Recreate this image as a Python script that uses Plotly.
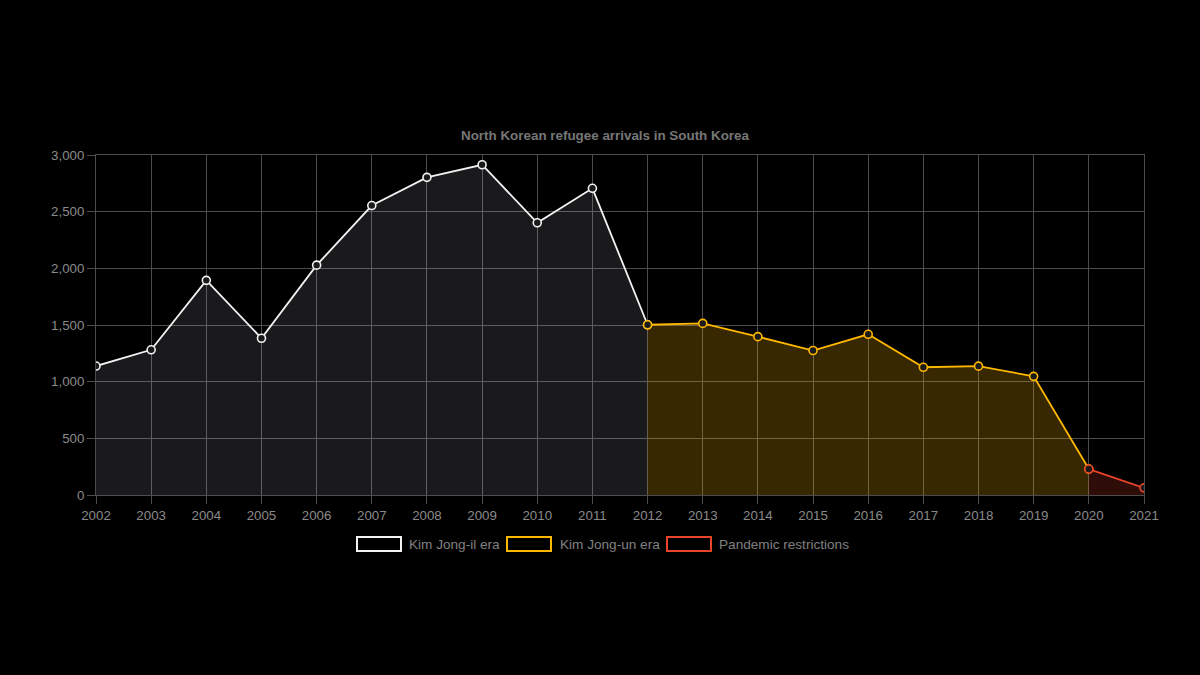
import plotly.graph_objects as go

years_il = [2002, 2003, 2004, 2005, 2006, 2007, 2008, 2009, 2010, 2011, 2012]
arrivals_il = [1138, 1281, 1894, 1383, 2028, 2554, 2803, 2914, 2402, 2706, 1502]

years_un = [2012, 2013, 2014, 2015, 2016, 2017, 2018, 2019, 2020]
arrivals_un = [1502, 1514, 1397, 1275, 1418, 1127, 1137, 1047, 229]

years_pandemic = [2020, 2021]
arrivals_pandemic = [229, 63]

series = [
    ("Kim Jong-il era", years_il, arrivals_il, "#f2f2f2", "rgba(235,232,255,0.11)"),
    ("Kim Jong-un era", years_un, arrivals_un, "#ffb800", "rgba(255,184,10,0.22)"),
    ("Pandemic restrictions", years_pandemic, arrivals_pandemic, "#e8442a", "rgba(232,60,35,0.2)"),
]

FONT = "Liberation Sans, Arial, Helvetica, sans-serif"
GRID = "#4d4d4d"
TEXT = "#8a8a8a"

fig = go.Figure()
for name, xs, ys, line_col, fill_col in series:
    fig.add_trace(go.Scatter(
        x=xs, y=ys, name=name, mode="lines+markers",
        fill="tozeroy", fillcolor=fill_col,
        line=dict(color=line_col, width=1.8),
        marker=dict(size=8, color="#1a1a1a", line=dict(color=line_col, width=1.6)),
        showlegend=False,
    ))

# legend drawn as Chart.js-style boxes
legend_items = [(357, 407), (507, 558), (667, 717)]
for (box_x, text_x), (name, _, _, line_col, _) in zip(legend_items, series):
    fig.add_shape(type="rect", xref="paper", yref="paper",
                  x0=(box_x - 96) / 1048, x1=(box_x + 44 - 96) / 1048,
                  y0=(495 - 551) / 340, y1=(495 - 537) / 340,
                  line=dict(color=line_col, width=2), fillcolor="#000000")
    fig.add_annotation(text=name, xref="paper", yref="paper",
                       x=(text_x - 96) / 1048, y=(495 - 544) / 340,
                       xanchor="left", yanchor="middle", showarrow=False,
                       font=dict(family=FONT, size=13.6, color="#808080"))

fig.update_layout(
    width=1200, height=675,
    paper_bgcolor="#000000", plot_bgcolor="#000000",
    margin=dict(l=96, r=56, t=155, b=180),
    title=dict(text="<b>North Korean refugee arrivals in South Korea</b>",
               x=605 / 1200, xref="container", xanchor="center",
               y=1 - 135 / 675, yref="container", yanchor="middle",
               font=dict(family=FONT, size=13.4, color="#777777")),
    font=dict(family=FONT, size=13, color=TEXT),
)
fig.update_xaxes(
    range=[2002, 2021], tickmode="linear", tick0=2002, dtick=1,
    showgrid=True, gridcolor=GRID, gridwidth=1,
    showline=True, linecolor=GRID, mirror=True, zeroline=False,
    ticks="outside", ticklen=8, tickcolor=GRID,
    tickfont=dict(family=FONT, size=13.3, color=TEXT),
)
fig.update_yaxes(
    range=[0, 3000], dtick=500, tickformat=",",
    showgrid=True, gridcolor=GRID, gridwidth=1,
    showline=True, linecolor=GRID, mirror=True, zeroline=False,
    ticks="outside", ticklen=8, tickcolor=GRID,
    tickfont=dict(family=FONT, size=13.3, color=TEXT),
)

fig.write_html(
    "out.html",
    config={"displayModeBar": False},
    post_script="document.body.style.margin='0';document.body.style.background='#000';",
)
